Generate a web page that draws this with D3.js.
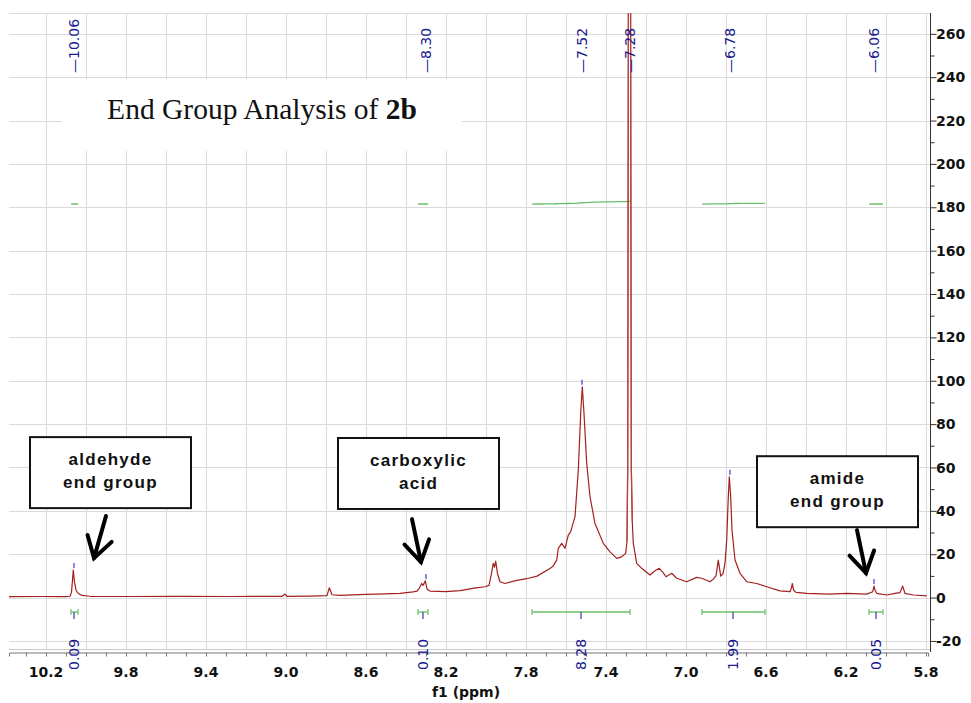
<!DOCTYPE html>
<html>
<head>
<meta charset="utf-8">
<script src="https://cdn.jsdelivr.net/npm/d3@7"></script>
<style>
  html, body { margin: 0; padding: 0; background: #fff; }
  svg { display: block; }
  .tick-label { font-family: "DejaVu Sans", Verdana, sans-serif; font-weight: bold; font-size: 14px; fill: #111; }
  .peak-label { font-family: "DejaVu Sans", Verdana, sans-serif; font-size: 14px; fill: #1a1a8e; }
  .note { font-family: "Liberation Sans", Arial, sans-serif; font-weight: bold; font-size: 17px; letter-spacing: 1.3px; fill: #111; }
</style>
</head>
<body>
<div id="chart"></div>
<script>
// Spectre : déplacement chimique (ppm) / intensité
const ppm = [
  10.385, 10.23, 10.105, 10.08, 10.0725, 10.0675, 10.0635, 10.0575, 10.05, 10.04, 10.02, 9.98,
  9.78, 9.53, 9.28, 9.02, 9.005, 8.995, 8.88, 8.795, 8.7835, 8.77, 8.73, 8.60, 8.505, 8.43,
  8.365, 8.345, 8.3325, 8.3215, 8.315, 8.3035, 8.295, 8.28, 8.20, 8.13, 8.08, 8.05, 8.005,
  7.985, 7.975, 7.9635, 7.9575, 7.9515, 7.9425, 7.93, 7.905, 7.8465, 7.7965, 7.745, 7.68,
  7.665, 7.6465, 7.6385, 7.6215, 7.605, 7.5885, 7.5765, 7.555, 7.5385, 7.5265, 7.5185, 7.51,
  7.4965, 7.48, 7.455, 7.4135, 7.38, 7.3465, 7.3215, 7.3015, 7.295, 7.2915, 7.2875, 7.2825,
  7.2775, 7.2735, 7.2685, 7.2635, 7.2465, 7.2215, 7.18, 7.155, 7.1335, 7.1135, 7.10, 7.0715,
  7.0465, 6.9965, 6.9465, 6.9215, 6.88, 6.8635, 6.85, 6.8385, 6.8265, 6.815, 6.805, 6.7965,
  6.7885, 6.7835, 6.7765, 6.77, 6.755, 6.73, 6.6965, 6.6465, 6.5965, 6.53, 6.48, 6.4725,
  6.4685, 6.4625, 6.45, 6.3965, 6.28, 6.1965, 6.0965, 6.0665, 6.06, 6.055, 6.0465, 5.9965,
  5.955, 5.93, 5.9165, 5.905, 5.8635, 5.7965
];
const intensity = [
  0.4, 0.5, 0.4, 0.6, 2.5, 8, 12.7, 7, 3.5, 2, 1.0, 0.6,
  0.5, 0.6, 0.5, 0.6, 1.6, 0.6, 0.7, 0.9, 4.5, 1.3, 1.0, 1.5, 1.7, 1.9,
  2.6, 3.0, 4.5, 6.5, 5.6, 7.7, 4, 3.0, 2.7, 3.2, 4.0, 4.5, 5.0,
  5.6, 10, 15.8, 14, 16.8, 11, 7.3, 6.5, 7.9, 8.7, 9.9, 13.4,
  14.5, 17.3, 22.7, 25, 22.7, 28.8, 30.4, 37.3, 58.8, 85, 97.2, 85,
  61.9, 46.5, 34.2, 25, 21.1, 18.1, 18.8, 20.4, 26, 60, 300, 2000,
  300, 60, 35, 25, 15.8, 13.5, 10.4, 12.4, 13.5, 11.4, 9.6, 11.2,
  8.9, 7.3, 9.3, 8.9, 7.3, 8.5, 10, 17.3, 9.9, 11, 15.8, 26.5,
  46.5, 55.7, 46.5, 31, 17.3, 11.2, 7.3, 6.5, 5, 3.1, 2.7, 4.5,
  6.5, 3.5, 2.4, 1.9, 1.6, 1.9, 1.6, 2.7, 5.3, 3.5, 1.9, 1.2,
  1.9, 2.3, 5.3, 1.9, 1.2, 0.8
];

// Pics annotés en haut
const peakPpm = [10.06, 8.30, 7.52, 7.28, 6.78, 6.06];

// Intégrations
const integFrom = [10.075, 8.34, 7.77, 6.92, 6.085];
const integTo = [10.04, 8.29, 7.28, 6.605, 6.015];
const integMark = [10.06, 8.315, 7.525, 6.765, 6.05];
const integLabel = ['0.09', '0.10', '8.28', '1.99', '0.05'];

// Encadrés de commentaire
const noteLines = [['aldehyde', 'end group'], ['carboxylic', 'acid'], ['amide', 'end group']];
const noteLeft = [10.28, 8.74, 6.645];
const noteTop = [74.0, 73.6, 65.2];
const arrowFrom = [[9.90, 37.6], [8.37, 36.2], [6.145, 31.1]];
const arrowTo = [[9.96, 18.2], [8.325, 16.4], [6.10, 11.3]];

const xTicks = d3.range(10.2, 5.79, -0.4);
const yTicks = d3.range(-20, 261, 20);

const W = 971, H = 703;
const plot = { left: 9, right: 928, top: 13, bottom: 652 };

const x = d3.scaleLinear().domain([10.385, 5.79]).range([plot.left, plot.right]);
const y = d3.scaleLinear().domain([-25.1, 269.6]).range([plot.bottom, plot.top]);

const svg = d3.select('#chart').append('svg').attr('width', W).attr('height', H);

svg.append('clipPath').attr('id', 'clip')
  .append('rect')
  .attr('x', plot.left).attr('y', plot.top)
  .attr('width', plot.right - plot.left).attr('height', plot.bottom - plot.top);

// --- grille ---
const grid = svg.append('g').attr('stroke', '#dadada').attr('stroke-width', 1);
grid.selectAll('line.v')
  .data(d3.range(10.2, 5.79, -0.2))
  .join('line')
  .attr('class', 'v')
  .attr('x1', d => Math.round(x(d)) + 0.5).attr('x2', d => Math.round(x(d)) + 0.5)
  .attr('y1', plot.top).attr('y2', plot.bottom - 3);
grid.selectAll('line.h')
  .data(yTicks.concat([y.invert(plot.top)]))
  .join('line')
  .attr('class', 'h')
  .attr('x1', plot.left).attr('x2', plot.right + 2)
  .attr('y1', d => Math.round(y(d)) + 0.5).attr('y2', d => Math.round(y(d)) + 0.5);

// --- titre (cache la grille derrière) ---
svg.append('rect')
  .attr('x', x(10.12)).attr('y', y(239))
  .attr('width', x(8.12) - x(10.12)).attr('height', y(206) - y(239))
  .attr('fill', '#fff');
const title = svg.append('text')
  .attr('x', (x(10.12) + x(8.12)) / 2).attr('y', 119)
  .attr('text-anchor', 'middle')
  .attr('font-family', '"Liberation Serif", "Times New Roman", serif')
  .attr('font-size', 29.5).attr('fill', '#111');
title.append('tspan').text('End Group Analysis of ');
title.append('tspan').attr('font-weight', 'bold').text('2b');

// --- axe x ---
svg.append('line')
  .attr('x1', plot.left).attr('x2', plot.right + 2)
  .attr('y1', plot.bottom - 2.5).attr('y2', plot.bottom - 2.5)
  .attr('stroke', '#c8c8c8');
const xAxis = svg.append('g').attr('transform', `translate(0,${plot.bottom + 0.5})`);
xAxis.call(d3.axisBottom(x).tickValues(d3.range(10.3, 5.79, -0.1)).tickSize(4).tickFormat(''));
xAxis.select('.domain').attr('stroke', '#777');
xAxis.selectAll('.tick line').attr('stroke', '#777');
svg.append('g').selectAll('text')
  .data(xTicks)
  .join('text')
  .attr('class', 'tick-label')
  .attr('x', d => x(d)).attr('y', 677)
  .attr('text-anchor', 'middle')
  .text(d => d.toFixed(1));
svg.append('text')
  .attr('class', 'tick-label')
  .attr('x', 466).attr('y', 697)
  .attr('text-anchor', 'middle')
  .text('f1 (ppm)');

// --- axe y (à droite) ---
const yAxis = svg.append('g').attr('transform', `translate(${plot.right + 2.5},0)`);
yAxis.call(d3.axisRight(y).tickValues(d3.range(-20, 266, 10)).tickSize(4).tickFormat(''));
yAxis.select('.domain').attr('stroke', '#333').attr('d', `M0,${plot.top}V${plot.bottom}`);
yAxis.selectAll('.tick line').attr('stroke', '#333').attr('x2', d => (d % 20 === 0 ? 6 : 4));
svg.append('g').selectAll('text')
  .data(yTicks)
  .join('text')
  .attr('class', 'tick-label')
  .attr('x', plot.right + 8).attr('y', d => y(d)).attr('dy', '0.36em')
  .text(d => d);

// --- courbes d'intégrale ---
const spectrum = ppm.map((p, i) => ({ p, v: intensity[i] }));
const INTEG_BASE = 181.5;
const INTEG_SCALE = 0.085;
const integLine = d3.line().x(d => x(d[0])).y(d => y(d[1]));
integFrom.forEach((from, i) => {
  const to = integTo[i];
  const inside = spectrum.filter(d => d.p <= from && d.p >= to);
  const pts = [[from, INTEG_BASE]];
  let acc = 0, prev = { p: from, v: inside.length ? inside[0].v : 0 };
  for (const d of inside) {
    acc += (prev.p - d.p) * (Math.min(prev.v, 100) + Math.min(d.v, 100)) / 2;
    pts.push([d.p, INTEG_BASE + acc * INTEG_SCALE]);
    prev = d;
  }
  pts.push([to, INTEG_BASE + acc * INTEG_SCALE]);
  svg.append('path')
    .attr('d', integLine(pts))
    .attr('fill', 'none').attr('stroke', '#6cbf6a').attr('stroke-width', 1.3);
});

// --- barres d'intégration + valeurs ---
const integY = 612;
const integ = svg.append('g');
integFrom.forEach((from, i) => {
  const g = integ.append('g');
  g.append('line')
    .attr('x1', x(from)).attr('x2', x(integTo[i]))
    .attr('y1', integY).attr('y2', integY)
    .attr('stroke', '#6cbf6a').attr('stroke-width', 1.3);
  [from, integTo[i]].forEach(p => g.append('line')
    .attr('x1', x(p)).attr('x2', x(p))
    .attr('y1', integY - 3).attr('y2', integY + 3)
    .attr('stroke', '#6cbf6a').attr('stroke-width', 1.2));
  g.append('line')
    .attr('x1', x(integMark[i])).attr('x2', x(integMark[i]))
    .attr('y1', integY).attr('y2', integY + 7)
    .attr('stroke', '#3a3aa8').attr('stroke-width', 1.2);
  g.append('text')
    .attr('class', 'peak-label')
    .attr('transform', `translate(${x(integMark[i])},670) rotate(-90)`)
    .attr('dy', '0.36em')
    .text(integLabel[i]);
});

// --- spectre ---
const specLayer = svg.append('g').attr('clip-path', 'url(#clip)');
specLayer.append('path')
  .datum(spectrum)
  .attr('d', d3.line().x(d => x(d.p)).y(d => y(d.v)))
  .attr('fill', 'none')
  .attr('stroke', '#a3201f')
  .attr('stroke-width', 1.2)
  .attr('stroke-linejoin', 'round');

// marqueurs bleus au sommet des pics
peakPpm.forEach(p => {
  const top = d3.max(spectrum.filter(d => Math.abs(d.p - p) < 0.012), d => d.v);
  specLayer.append('line')
    .attr('x1', x(p)).attr('x2', x(p))
    .attr('y1', y(top) - 2).attr('y2', y(top) - 7)
    .attr('stroke', '#3a3ad0').attr('stroke-width', 1.2);
});

// étiquettes des pics en haut
svg.append('g').selectAll('text')
  .data(peakPpm)
  .join('text')
  .attr('class', 'peak-label')
  .attr('transform', d => `translate(${x(d)},73) rotate(-90)`)
  .attr('dy', '0.36em')
  .text(d => '\u2014' + d.toFixed(2));

// le pic du solvant passe devant l'étiquette 7.28
specLayer.append('path')
  .datum(spectrum.filter(d => d.p < 7.30 && d.p > 7.265))
  .attr('d', d3.line().x(d => x(d.p)).y(d => y(d.v)))
  .attr('fill', 'none')
  .attr('stroke', '#b84a4a')
  .attr('stroke-opacity', 0.85)
  .attr('stroke-width', 1.3);

// --- encadrés et flèches ---
const NOTE_W = 161, NOTE_H = 71;
noteLines.forEach((lines, i) => {
  const bx = x(noteLeft[i]), by = y(noteTop[i]);
  svg.append('rect')
    .attr('x', bx).attr('y', by)
    .attr('width', NOTE_W).attr('height', NOTE_H)
    .attr('fill', '#fff').attr('stroke', '#111').attr('stroke-width', 2);
  lines.forEach((t, k) => svg.append('text')
    .attr('class', 'note')
    .attr('x', bx + NOTE_W / 2).attr('y', by + 28 + k * 23)
    .attr('text-anchor', 'middle')
    .text(t));

  const [x0, y0] = [x(arrowFrom[i][0]), y(arrowFrom[i][1])];
  const [x1, y1] = [x(arrowTo[i][0]), y(arrowTo[i][1])];
  const ang = Math.atan2(y1 - y0, x1 - x0);
  const head = 24, spread = 0.55;
  const arrow = svg.append('g')
    .attr('stroke', '#000').attr('stroke-width', 4)
    .attr('stroke-linecap', 'round').attr('fill', 'none');
  arrow.append('line').attr('x1', x0).attr('y1', y0).attr('x2', x1).attr('y2', y1);
  arrow.append('path').attr('d', d3.line()([
    [x1 - head * Math.cos(ang - spread), y1 - head * Math.sin(ang - spread)],
    [x1, y1],
    [x1 - head * Math.cos(ang + spread), y1 - head * Math.sin(ang + spread)],
  ])).attr('stroke-linejoin', 'miter');
});
</script>
</body>
</html>
